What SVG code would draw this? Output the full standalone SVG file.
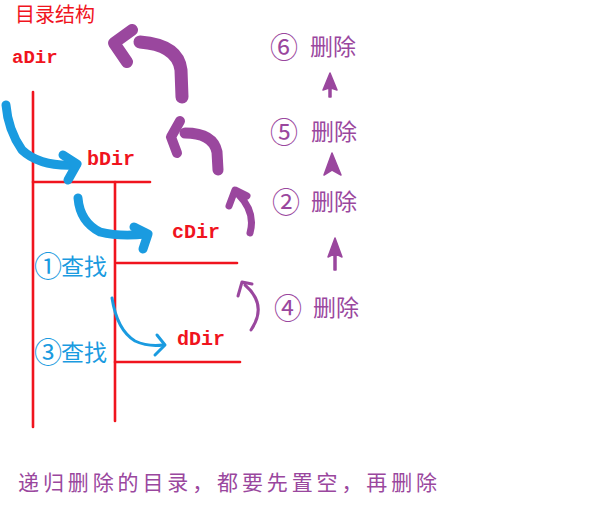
<svg xmlns="http://www.w3.org/2000/svg" width="596" height="532" viewBox="0 0 596 532">
<style>
.bg{fill:#ffffff}
.red{stroke:#f0141e;stroke-width:2.6;fill:none;stroke-linecap:round}
.dir{font-family:"Liberation Mono",monospace;font-weight:bold;fill:#f0141e}
.cjk{font-family:"Noto Sans CJK SC",sans-serif}
.rt{fill:#f0141e}
.bt{fill:#1a9be0}
.pt{fill:#9a479e}
.num{font-size:28px}
.pu{stroke:#9a479e;fill:none;stroke-linecap:round;stroke-linejoin:round}
.bl{stroke:#1a9be0;fill:none;stroke-linecap:round;stroke-linejoin:round}
.pf{fill:#9a479e;stroke:#9a479e;stroke-width:1.5;stroke-linejoin:round}
</style>
<rect class="bg" x="0" y="0" width="596" height="532"/>
<g id="tree">
<line class="red" x1="33" y1="92" x2="33" y2="427"/>
<line class="red" x1="33" y1="182" x2="150" y2="182"/>
<line class="red" x1="115" y1="182" x2="115" y2="421"/>
<line class="red" x1="117" y1="263" x2="237" y2="263"/>
<line class="red" x1="115" y1="362" x2="240" y2="362"/>
</g>
<g id="title"><text class="cjk rt" x="15" y="22" font-size="20">目录结构</text></g>
<g id="aDir"><text class="dir" x="12" y="63" font-size="19">aDir</text></g>
<g id="bDir"><text class="dir" x="87" y="165" font-size="20">bDir</text></g>
<g id="cDir"><text class="dir" x="172" y="238" font-size="20">cDir</text></g>
<g id="dDir"><text class="dir" x="177" y="345" font-size="20">dDir</text></g>
<g id="find1"><text class="cjk bt num" x="34" y="277">①</text><text class="cjk bt" x="61" y="275" font-size="23">查找</text></g>
<g id="find3"><text class="cjk bt num" x="34" y="363">③</text><text class="cjk bt" x="61" y="361" font-size="23">查找</text></g>
<g id="del6"><text class="cjk pt num" x="270" y="58">⑥</text><text class="cjk pt" x="310" y="55" font-size="23">删除</text></g>
<g id="del5"><text class="cjk pt num" x="270" y="143">⑤</text><text class="cjk pt" x="311" y="140" font-size="23">删除</text></g>
<g id="del2"><text class="cjk pt num" x="272" y="213">②</text><text class="cjk pt" x="311" y="210" font-size="23">删除</text></g>
<g id="del4"><text class="cjk pt num" x="274" y="319">④</text><text class="cjk pt" x="313" y="316" font-size="23">删除</text></g>
<g id="note"><text class="cjk pt" x="18" y="490" font-size="21" textLength="419" lengthAdjust="spacing">递归删除的目录，都要先置空，再删除</text></g>
<g id="connectors">
<path class="pu" stroke-width="13" d="M182,97 L181,70 Q178,45 140,42"/>
<path class="pu" stroke-width="12" d="M132,30 L114,43 L127,62"/>
<path class="pu" stroke-width="11" d="M218,170 L217,152 Q213,133 185,133"/>
<path class="pu" stroke-width="10" d="M180,121 L171,137 L177,153"/>
<path class="pu" stroke-width="7" d="M250,233 Q256,212 238,194"/>
<path class="pu" stroke-width="7" d="M229,206 L235,190 L247,196"/>
<path class="pu" stroke-width="3" d="M251,330 Q268,305 245,285"/>
<path class="pu" stroke-width="3" d="M238,296 L242,282 L252,284"/>
<path class="pf" d="M330,73 L337,90 L331,88 L331,97 L329,97 L329,88 L323,90 Z"/>
<path class="pf" d="M332,153 L341,175 L332,170 L324,175 Z"/>
<path class="pf" d="M335,238 L342,257 L336,254 L336,270 L334,270 L334,254 L328,257 Z"/>
<path class="bl" stroke-width="9" d="M6,105 Q8,130 22,150 Q40,167 76,165"/>
<path class="bl" stroke-width="9" d="M63,155 L77,164 L68,180"/>
<path class="bl" stroke-width="9" d="M78,198 Q80,222 100,232 Q120,237 146,234"/>
<path class="bl" stroke-width="9" d="M134,227 L148,234 L143,249"/>
<path class="bl" stroke-width="3" d="M112,298 Q117,330 135,341 Q148,347 163,345"/>
<path class="bl" stroke-width="3" d="M157,335 L165,345 L155,355"/>
</g>
</svg>
